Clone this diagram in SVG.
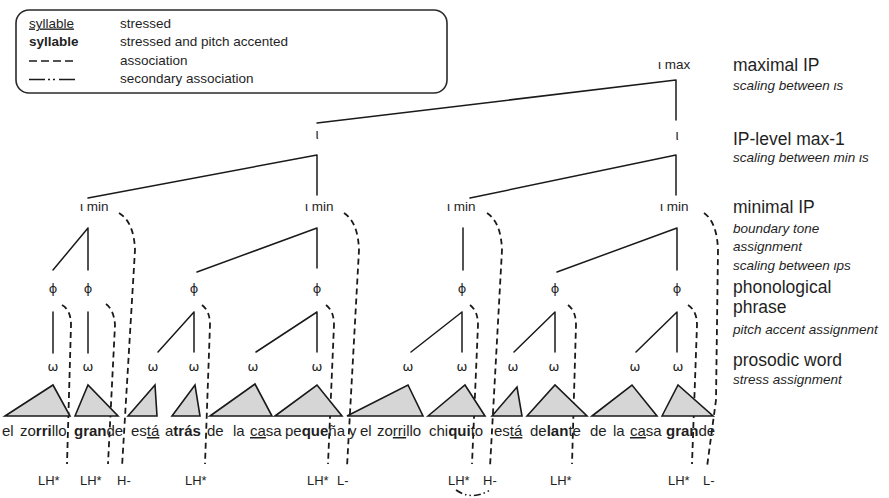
<svg xmlns="http://www.w3.org/2000/svg" width="889" height="498" viewBox="0 0 889 498">
  <style>
    text { font-family: "Liberation Sans", "DejaVu Sans", sans-serif; fill: #1f1f1f; }
    .lg { font-size: 13.5px; }
    .lvl { font-size: 17.5px; }
    .note { font-size: 13.5px; font-style: italic; }
    .nd { font-size: 13.5px; }
    .sym { font-size: 14px; text-anchor: middle; }
    .gk { font-family: "DejaVu Sans", sans-serif; font-size: 13px; text-anchor: middle; }
    .wd { font-size: 15px; }
    .tone { font-size: 13px; }
    .b { font-weight: bold; }
    .u { text-decoration: underline; }
    .edge { stroke: #1a1a1a; stroke-width: 1.5; fill: none; stroke-linecap: round; }
    .assoc { stroke: #1a1a1a; stroke-width: 1.8; fill: none; stroke-dasharray: 6 4; }
    .sec { stroke: #1a1a1a; stroke-width: 1.6; fill: none; stroke-dasharray: 7 3 1.5 3 1.5 3; }
    .tri { fill: #d6d6d6; stroke: #1a1a1a; stroke-width: 1.6; }
  </style>

  <rect x="0" y="0" width="889" height="498" fill="#ffffff"/>

  <!-- key -->
  <g id="legend">
    <rect x="16" y="10" width="431" height="83" rx="13" fill="#ffffff" stroke="#2a2a2a" stroke-width="1.6"/>
    <text class="lg u" x="29" y="27.5">syllable</text>
    <text class="lg" x="120" y="27.5">stressed</text>
    <text class="lg b" x="29" y="46">syllable</text>
    <text class="lg" x="120" y="46">stressed and pitch accented</text>
    <line x1="29" y1="61" x2="74" y2="61" stroke="#1a1a1a" stroke-width="1.6" stroke-dasharray="8 4"/>
    <text class="lg" x="120" y="64.5">association</text>
    <line x1="29" y1="79.5" x2="75" y2="79.5" stroke="#1a1a1a" stroke-width="1.6" stroke-dasharray="16 3 2 3 2 4 16"/>
    <text class="lg" x="120" y="83">secondary association</text>
  </g>

  <!-- level descriptions -->
  <g id="levels">
    <text class="lvl" x="733" y="71">maximal IP</text>
    <text class="note" x="733" y="90">scaling between ιs</text>
    <text class="lvl" x="733" y="145">IP-level max-1</text>
    <text class="note" x="733" y="162">scaling between min ιs</text>
    <text class="lvl" x="733" y="213">minimal IP</text>
    <text class="note" x="733" y="233">boundary tone</text>
    <text class="note" x="733" y="251">assignment</text>
    <text class="note" x="733" y="270">scaling between ιps</text>
    <text class="lvl" x="733" y="293">phonological</text>
    <text class="lvl" x="733" y="313">phrase</text>
    <text class="note" x="733" y="334">pitch accent assignment</text>
    <text class="lvl" x="733" y="366">prosodic word</text>
    <text class="note" x="733" y="384">stress assignment</text>
  </g>

  <!-- tree edges -->
  <g id="connectors">
    <path class="edge" d="M676,80 V120 M676,80 L317,123"/>
    <path class="edge" d="M317,155 V195 M317,155 L88,198"/>
    <path class="edge" d="M676,155 V195 M676,155 L470,198"/>
    <path class="edge" d="M88,228 V270 M88,228 L53,270"/>
    <path class="edge" d="M317,228 V268 M317,228 L197,272"/>
    <path class="edge" d="M463,228 V270"/>
    <path class="edge" d="M677,228 V270 M677,228 L557,272"/>
    <path class="edge" d="M53,312 V353"/>
    <path class="edge" d="M88,312 V353"/>
    <path class="edge" d="M194,312 V352 M194,312 L158,352"/>
    <path class="edge" d="M317,312 V352 M317,312 L256,352"/>
    <path class="edge" d="M462,312 V352 M462,312 L411,352"/>
    <path class="edge" d="M555,312 V352 M555,312 L514,352"/>
    <path class="edge" d="M677,312 V352 M677,312 L636,352"/>
  </g>

  <!-- associations -->
  <g id="associations">
    <path class="assoc" d="M119,213 Q134,222 135,250 L122,467"/>
    <path class="assoc" d="M62,305 Q71,310 71,325 L67,464"/>
    <path class="assoc" d="M106,304 Q114,310 115,325 L108,464"/>
    <path class="assoc" d="M202,305 Q210,311 210,325 L205,464"/>
    <path class="assoc" d="M326,305 Q334,311 334,325 L328,464"/>
    <path class="assoc" d="M344,213 Q358,222 359,250 L347,467"/>
    <path class="assoc" d="M470,305 Q478,311 478,325 L472,464"/>
    <path class="assoc" d="M487,213 Q501,222 502,250 L490,467"/>
    <path class="assoc" d="M568,305 Q576,311 576,325 L572,464"/>
    <path class="assoc" d="M688,305 Q697,311 697,325 L692,464"/>
    <path class="assoc" d="M704,213 Q717,222 718,250 L716,400 L707,467"/>
    <path class="sec" d="M456,490 Q472,501 490,490"/>
  </g>

  <!-- intonational phrases -->
  <g id="imax"><text class="nd" x="658" y="69">ι max</text></g>
  <g id="i-left"><text class="sym" x="317" y="139">ι</text></g>
  <g id="i-right"><text class="sym" x="677" y="140">ι</text></g>
  <g id="imin1"><text class="nd" x="80" y="211">ι min</text></g>
  <g id="imin2"><text class="nd" x="305" y="211">ι min</text></g>
  <g id="imin3"><text class="nd" x="447" y="211">ι min</text></g>
  <g id="imin4"><text class="nd" x="660" y="211">ι min</text></g>

  <!-- phonological phrases -->
  <g id="phi1"><text class="gk" x="53" y="293">ϕ</text></g>
  <g id="phi2"><text class="gk" x="88" y="293">ϕ</text></g>
  <g id="phi3"><text class="gk" x="194" y="293">ϕ</text></g>
  <g id="phi4"><text class="gk" x="317" y="293">ϕ</text></g>
  <g id="phi5"><text class="gk" x="462" y="293">ϕ</text></g>
  <g id="phi6"><text class="gk" x="555" y="293">ϕ</text></g>
  <g id="phi7"><text class="gk" x="677" y="293">ϕ</text></g>

  <!-- prosodic words -->
  <g id="w1"><text class="gk" x="53" y="371">ω</text></g>
  <g id="w2"><text class="gk" x="88" y="371">ω</text></g>
  <g id="w3"><text class="gk" x="153" y="371">ω</text></g>
  <g id="w4"><text class="gk" x="194" y="371">ω</text></g>
  <g id="w5"><text class="gk" x="253" y="371">ω</text></g>
  <g id="w6"><text class="gk" x="317" y="371">ω</text></g>
  <g id="w7"><text class="gk" x="408" y="371">ω</text></g>
  <g id="w8"><text class="gk" x="462" y="371">ω</text></g>
  <g id="w9"><text class="gk" x="513" y="371">ω</text></g>
  <g id="w10"><text class="gk" x="554" y="371">ω</text></g>
  <g id="w11"><text class="gk" x="635" y="371">ω</text></g>
  <g id="w12"><text class="gk" x="678" y="371">ω</text></g>

  <!-- word triangles -->
  <g id="triangles">
    <polygon class="tri" points="5,416 53,385 70,416"/>
    <polygon class="tri" points="75,416 88,385 118,416"/>
    <polygon class="tri" points="128,416 155,385 157,416"/>
    <polygon class="tri" points="172,416 195,385 200,416"/>
    <polygon class="tri" points="210,416 255,384 272,416"/>
    <polygon class="tri" points="275,416 317,385 342,416"/>
    <polygon class="tri" points="347,416 408,385 423,416"/>
    <polygon class="tri" points="428,416 465,385 485,416"/>
    <polygon class="tri" points="492,416 517,387 522,416"/>
    <polygon class="tri" points="527,416 555,385 587,416"/>
    <polygon class="tri" points="592,416 632,385 657,416"/>
    <polygon class="tri" points="662,416 678,385 713,416"/>
  </g>

  <!-- sentence -->
  <g id="sentence">
    <text class="wd" x="2" y="436">el</text>
    <text class="wd" x="20" y="436">zo<tspan class="b">rri</tspan>llo</text>
    <text class="wd" x="74" y="436"><tspan class="b">gran</tspan>de</text>
    <text class="wd" x="131" y="436">es<tspan class="u">tá</tspan></text>
    <text class="wd" x="165" y="436">a<tspan class="b">trás</tspan></text>
    <text class="wd" x="207" y="436">de</text>
    <text class="wd" x="233" y="436">la</text>
    <text class="wd" x="250" y="436"><tspan class="u">ca</tspan>sa</text>
    <text class="wd" x="285" y="436">pe<tspan class="b">que</tspan>ña</text>
    <text class="wd" x="349" y="436">y</text>
    <text class="wd" x="360" y="436">el</text>
    <text class="wd" x="377" y="436">zo<tspan class="u">rri</tspan>llo</text>
    <text class="wd" x="429" y="436">chi<tspan class="b">qui</tspan>to</text>
    <text class="wd" x="494" y="436">es<tspan class="u">tá</tspan></text>
    <text class="wd" x="530" y="436">de<tspan class="b">lan</tspan>te</text>
    <text class="wd" x="590" y="436">de</text>
    <text class="wd" x="613" y="436">la</text>
    <text class="wd" x="630" y="436"><tspan class="u">ca</tspan>sa</text>
    <text class="wd" x="666" y="436"><tspan class="b">gran</tspan>de</text>
  </g>

  <!-- tones -->
  <g id="tones">
    <text class="tone" x="38" y="485">LH*</text>
    <text class="tone" x="80" y="485">LH*</text>
    <text class="tone" x="117" y="485">H-</text>
    <text class="tone" x="185" y="485">LH*</text>
    <text class="tone" x="307" y="485">LH*</text>
    <text class="tone" x="337" y="485">L-</text>
    <text class="tone" x="448" y="485">LH*</text>
    <text class="tone" x="483" y="485">H-</text>
    <text class="tone" x="550" y="485">LH*</text>
    <text class="tone" x="668" y="485">LH*</text>
    <text class="tone" x="703" y="485">L-</text>
  </g>
</svg>
